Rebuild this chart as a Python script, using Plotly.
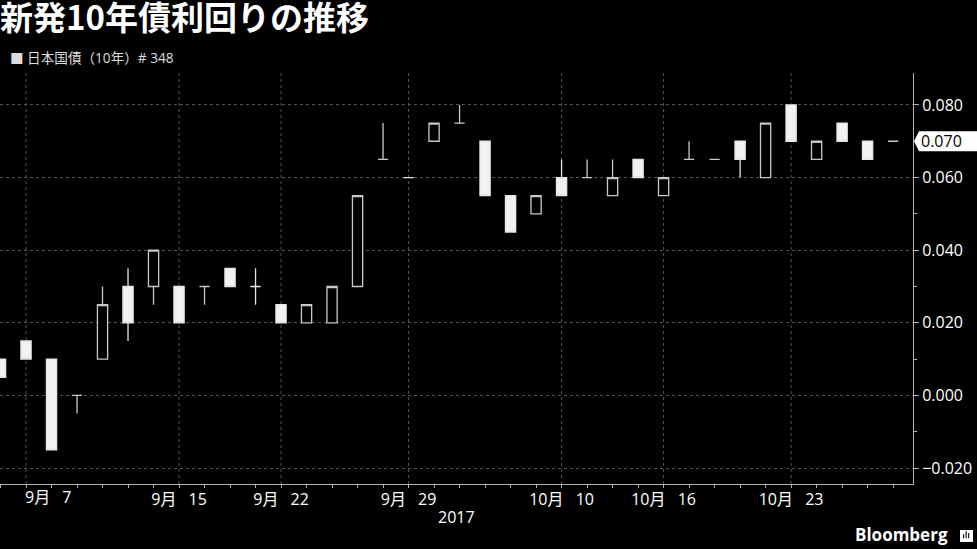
"""
Candlestick of the new 10-year JGB yield, Bloomberg dark style.
"""
import plotly.graph_objects as go

# ── Data ─────────────────────────────────────────────────────────────────────
dates = [
    "2017-09-06", "2017-09-07", "2017-09-08", "2017-09-11", "2017-09-12",
    "2017-09-13", "2017-09-14", "2017-09-15", "2017-09-19", "2017-09-20",
    "2017-09-21", "2017-09-22", "2017-09-25", "2017-09-26", "2017-09-27",
    "2017-09-28", "2017-09-29", "2017-10-02", "2017-10-03", "2017-10-04",
    "2017-10-05", "2017-10-06", "2017-10-10", "2017-10-11", "2017-10-12",
    "2017-10-13", "2017-10-16", "2017-10-17", "2017-10-18", "2017-10-19",
    "2017-10-20", "2017-10-23", "2017-10-24", "2017-10-25", "2017-10-26",
    "2017-10-27",
]
opens = [0.010, 0.015, 0.010, 0.000, 0.010, 0.030, 0.030, 0.030, 0.030, 0.035,
         0.030, 0.025, 0.020, 0.020, 0.030, 0.065, 0.060, 0.070, 0.075, 0.070,
         0.055, 0.050, 0.060, 0.060, 0.055, 0.065, 0.055, 0.065, 0.065, 0.070,
         0.060, 0.080, 0.065, 0.075, 0.070, 0.070]
highs = [0.010, 0.015, 0.010, 0.000, 0.030, 0.035, 0.040, 0.030, 0.030, 0.035,
         0.035, 0.025, 0.025, 0.030, 0.055, 0.075, 0.060, 0.075, 0.080, 0.070,
         0.055, 0.055, 0.065, 0.065, 0.065, 0.065, 0.060, 0.070, 0.065, 0.070,
         0.075, 0.080, 0.070, 0.075, 0.070, 0.070]
lows = [0.005, 0.010, -0.015, -0.005, 0.010, 0.015, 0.025, 0.020, 0.025, 0.030,
        0.025, 0.020, 0.020, 0.020, 0.030, 0.065, 0.060, 0.070, 0.075, 0.055,
        0.045, 0.050, 0.055, 0.060, 0.055, 0.060, 0.055, 0.065, 0.065, 0.060,
        0.060, 0.070, 0.065, 0.070, 0.065, 0.070]
closes = [0.005, 0.010, -0.015, 0.000, 0.025, 0.020, 0.040, 0.020, 0.030, 0.030,
          0.030, 0.020, 0.025, 0.030, 0.055, 0.065, 0.060, 0.075, 0.075, 0.055,
          0.045, 0.055, 0.055, 0.060, 0.060, 0.060, 0.060, 0.065, 0.065, 0.065,
          0.075, 0.070, 0.070, 0.070, 0.065, 0.070]

label_dates = ["2017-09-07", "2017-09-15", "2017-09-22", "2017-09-29",
               "2017-10-10", "2017-10-16", "2017-10-23"]
label_texts = ["9月\u2002 7", "9月\u2002 15", "9月\u2002 22",
               "9月\u2002 29", "10月\u2002 10", "10月\u2002 16", "10月\u2002 23"]
y_ticks = [-0.020, 0.000, 0.020, 0.040, 0.060, 0.080]

TITLE = "新発10年債利回りの推移"
LEGEND = "■ 日本国債（10年）# 348"
YEAR = "2017"

BG = "#000000"
GRID = "#555555"
AXIS = "#b0b0b0"
FONT = "Open Sans, Noto Sans CJK JP, sans-serif"

# ── Candles ──────────────────────────────────────────────────────────────────
fig = go.Figure(go.Candlestick(
    x=dates, open=opens, high=highs, low=lows, close=closes,
    increasing=dict(line=dict(color="#c8c8c8", width=1.3), fillcolor=BG),
    decreasing=dict(line=dict(color="#e6e6e6", width=1.3), fillcolor="#f2f2f2"),
    whiskerwidth=0,
    showlegend=False,
))

for d in label_dates:
    fig.add_vline(x=d, line=dict(color=GRID, width=1, dash="dot"), layer="below")

# ── Last price tag ───────────────────────────────────────────────────────────
last = closes[-1]
fig.add_shape(
    type="path", xref="paper", yref="y",
    xsizemode="pixel", ysizemode="pixel", xanchor=1, yanchor=last,
    path="M 1,0 L 6,10 L 70,10 L 70,-10 L 6,-10 Z",
    fillcolor="#ffffff", line=dict(width=0),
)
fig.add_annotation(
    x=1, xref="paper", y=last, yref="y", xanchor="left", yanchor="middle",
    xshift=6, text=f"{last:.3f}", showarrow=False,
    font=dict(color="#000000", size=16, family=FONT),
)

# ── Texts ────────────────────────────────────────────────────────────────────
# first date label sits right of its tick (it would otherwise hit the edge)
fig.add_annotation(
    x=label_dates[0], xref="x", y=-0.0316, yref="paper",
    xanchor="left", yanchor="middle", xshift=-3,
    text=label_texts[0], showarrow=False,
    font=dict(color="#ffffff", size=16, family=FONT),
)
fig.add_annotation(
    x=0.0088, xref="paper", y=1.0365, yref="paper", xanchor="left", yanchor="middle",
    text=LEGEND, showarrow=False, font=dict(color="#dddddd", size=13.6, family=FONT),
)
fig.add_annotation(
    x=0.5, xref="paper", y=-0.080, yref="paper", xanchor="center", yanchor="middle",
    text=YEAR, showarrow=False, font=dict(color="#ffffff", size=16, family=FONT),
)
fig.add_annotation(
    x=1.0405, xref="paper", y=-0.124, yref="paper", xanchor="right", yanchor="middle",
    text="<b>Bloomberg</b>", showarrow=False,
    font=dict(color="#ffffff", size=17, family=FONT),
)
# small logo mark
fig.add_shape(type="rect", xref="paper", yref="paper",
              x0=1.0515, x1=1.0657, y0=-0.141, y1=-0.112,
              fillcolor="#ffffff", line=dict(width=0))
for i, h in enumerate([0.010, 0.017, 0.013]):
    fig.add_shape(type="rect", xref="paper", yref="paper",
                  x0=1.0548 + i * 0.0028, x1=1.0560 + i * 0.0028,
                  y0=-0.132, y1=-0.132 + h,
                  fillcolor="#000000", line=dict(width=0))

# ── Layout ───────────────────────────────────────────────────────────────────
tick_text = [label_texts[label_dates.index(d)]
             if d in label_dates[1:] else "" for d in dates]

fig.update_layout(
    width=977, height=549,
    paper_bgcolor=BG, plot_bgcolor=BG,
    font=dict(color="#ffffff", family=FONT, size=16),
    title=dict(
        text=f"<b>{TITLE}</b>", x=0.0, xref="container", xanchor="left",
        y=0.966, yref="container", yanchor="middle",
        font=dict(size=33, color="#ffffff", family="Noto Sans CJK JP"),
    ),
    margin=dict(l=0, r=64, t=73, b=65, autoexpand=False),
    boxgap=0.6, boxgroupgap=0,
    xaxis_rangeslider_visible=False,
)
fig.update_xaxes(
    type="category", range=[-0.02, 35.78], automargin=False,
    tickmode="array", tickvals=dates, ticktext=tick_text,
    ticks="outside", ticklen=3, tickcolor=AXIS, ticklabelstandoff=-2,
    showline=True, linecolor=AXIS, linewidth=1,
    showgrid=False, zeroline=False,
    tickfont=dict(size=16, color="#ffffff"),
)
fig.update_yaxes(
    side="right", range=[-0.0244, 0.0888], automargin=False,
    tickmode="array", tickvals=y_ticks, tickformat=".3f",
    ticks="outside", ticklen=5, tickcolor=AXIS,
    minor=dict(tickmode="linear", tick0=0, dtick=0.01, ticks="outside",
               ticklen=3, tickcolor=AXIS, showgrid=False),
    showline=True, linecolor=AXIS, linewidth=1,
    showgrid=True, gridcolor=GRID, griddash="dot", gridwidth=1,
    zeroline=False,
    tickfont=dict(size=16, color="#ffffff"),
)

fig.write_html("out.html", config={"displayModeBar": False},
               post_script="document.body.style.margin='0';")
